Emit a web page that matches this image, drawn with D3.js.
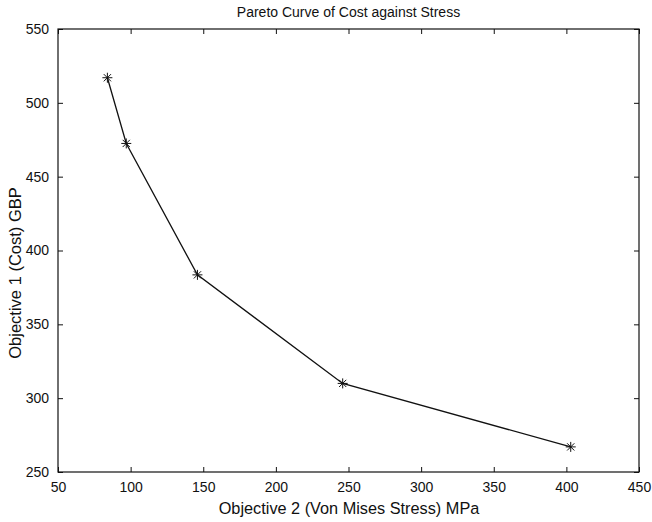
<!DOCTYPE html>
<html>
<head>
<meta charset="utf-8">
<script src="https://cdn.jsdelivr.net/npm/d3@7"></script>
<style>
  body { margin: 0; background: #fff; }
  text { font-family: "Liberation Sans", Arial, sans-serif; fill: #111; }
</style>
</head>
<body>
<svg width="652" height="522"></svg>
<script>
// Pareto front points (stress MPa, cost GBP)
let stress = [84, 97, 146, 246, 403];
let cost = [517, 472.5, 383.5, 310, 267];
let xTicks = [50, 100, 150, 200, 250, 300, 350, 400, 450];
let yTicks = [250, 300, 350, 400, 450, 500, 550];

let svg = d3.select("svg"),
    width = +svg.attr("width"),
    height = +svg.attr("height");

let margin = {top: 29, right: 13, bottom: 50, left: 58};
let w = width - margin.left - margin.right,
    h = height - margin.top - margin.bottom;

let x = d3.scaleLinear().domain([50, 450]).range([0, w]);
let y = d3.scaleLinear().domain([250, 550]).range([h, 0]);

let g = svg.append("g")
    .attr("transform", "translate(" + margin.left + "," + margin.top + ")");

// axes, MATLAB style: ticks point inward, box on all four sides
function styleAxis(sel) {
  sel.select(".domain").remove();
  sel.selectAll("line").attr("stroke", "#111").attr("stroke-width", 1);
  sel.selectAll("text").style("font-size", "14px");
}

g.append("g")
    .attr("transform", "translate(0," + h + ")")
    .call(d3.axisBottom(x).tickValues(xTicks).tickSize(-5).tickPadding(10))
    .call(styleAxis);

g.append("g")
    .call(d3.axisTop(x).tickValues(xTicks).tickSize(-5).tickFormat(""))
    .call(styleAxis);

g.append("g")
    .call(d3.axisLeft(y).tickValues(yTicks).tickSize(-5).tickPadding(9))
    .call(styleAxis);

g.append("g")
    .attr("transform", "translate(" + w + ",0)")
    .call(d3.axisRight(y).tickValues(yTicks).tickSize(-5).tickFormat(""))
    .call(styleAxis);

g.append("rect")
    .attr("width", w)
    .attr("height", h)
    .attr("fill", "none")
    .attr("stroke", "#111")
    .attr("stroke-width", 1.2);

let pts = stress.map(function(s, i) { return {x: s, y: cost[i]}; });

let line = d3.line()
    .x(function(d) { return x(d.x); })
    .y(function(d) { return y(d.y); });

g.append("path")
    .datum(pts)
    .attr("d", line)
    .attr("fill", "none")
    .attr("stroke", "#111")
    .attr("stroke-width", 1.3);

// asterisk markers
let r = 5;
let star = "M" + (-r) + ",0L" + r + ",0M0," + (-r) + "L0," + r +
    "M" + (-r * 0.72) + "," + (-r * 0.72) + "L" + (r * 0.72) + "," + (r * 0.72) +
    "M" + (-r * 0.72) + "," + (r * 0.72) + "L" + (r * 0.72) + "," + (-r * 0.72);

g.selectAll(".marker")
    .data(pts)
    .enter().append("path")
    .attr("class", "marker")
    .attr("d", star)
    .attr("transform", function(d) { return "translate(" + x(d.x) + "," + y(d.y) + ")"; })
    .attr("stroke", "#111")
    .attr("stroke-width", 1);

// title and labels
svg.append("text")
    .attr("x", margin.left + w / 2)
    .attr("y", 17)
    .attr("text-anchor", "middle")
    .style("font-size", "14px")
    .text("Pareto Curve of Cost against Stress");

svg.append("text")
    .attr("x", 349)
    .attr("y", 514)
    .attr("text-anchor", "middle")
    .style("font-size", "16.3px")
    .text("Objective 2 (Von Mises Stress) MPa");

svg.append("text")
    .attr("transform", "translate(21,273) rotate(-90)")
    .attr("text-anchor", "middle")
    .style("font-size", "16.5px")
    .text("Objective 1 (Cost) GBP");
</script>
</body>
</html>
